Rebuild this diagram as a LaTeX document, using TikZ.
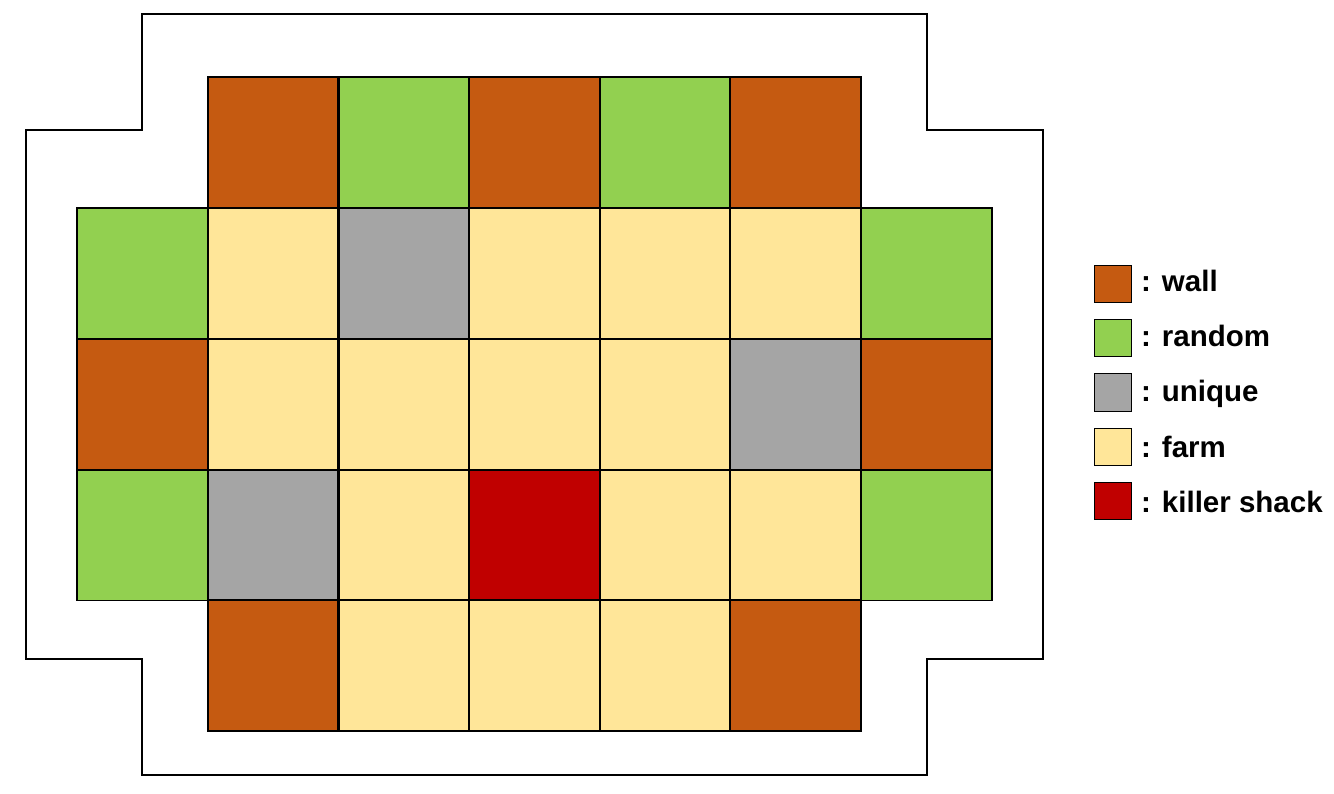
\documentclass[tikz,border=0pt]{standalone}
\usepackage{fontspec}
\setmainfont{Liberation Sans}
\definecolor{wallc}{HTML}{C55A11}
\definecolor{randc}{HTML}{92D050}
\definecolor{uniqc}{HTML}{A5A5A5}
\definecolor{farmc}{HTML}{FFE699}
\definecolor{killc}{HTML}{C00000}
\tikzset{
  cell/.style={minimum width=130.6pt, minimum height=130.6pt, inner sep=0pt, anchor=north west},
  W/.style={cell, fill=wallc},
  R/.style={cell, fill=randc},
  U/.style={cell, fill=uniqc},
  F/.style={cell, fill=farmc},
  K/.style={cell, fill=killc},
  cellborder/.style={draw=black, line width=1.8pt},
  swatch/.style={draw=black, line width=1pt, minimum width=37pt, minimum height=37pt, inner sep=0pt, anchor=north west},
  lbl/.style={anchor=base west, font=\bfseries\fontsize{29.5}{34}\selectfont, inner sep=0pt},
  outline/.style={draw=black, line width=2pt}
}
\begin{document}
\begin{tikzpicture}[x=1pt,y=-1pt]
\useasboundingbox (0,0) rectangle (1334,794);
\draw[outline] (141.5,14) -- (927,14) -- (927,130) -- (1043,130) -- (1043,659) -- (927,659) -- (927,775) -- (141.5,775) -- (141.5,659) -- (26,659) -- (26,130) -- (141.5,130) -- cycle;
% row 0
\foreach \c/\s in {1/W,2/R,3/W,4/R,5/W}
  \node[\s] (c0\c) at ({77+130.6*\c},77) {};
% row 1
\foreach \c/\s in {0/R,1/F,2/U,3/F,4/F,5/F,6/R}
  \node[\s] (c1\c) at ({77+130.6*\c},{77+130.8}) {};
% row 2
\foreach \c/\s in {0/W,1/F,2/F,3/F,4/F,5/U,6/W}
  \node[\s] (c2\c) at ({77+130.6*\c},{77+2*130.8}) {};
% row 3
\foreach \c/\s in {0/R,1/U,2/F,3/K,4/F,5/F,6/R}
  \node[\s] (c3\c) at ({77+130.6*\c},{77+3*130.8}) {};
% row 4
\foreach \c/\s in {1/W,2/F,3/F,4/F,5/W}
  \node[\s] (c4\c) at ({77+130.6*\c},{77+4*130.8}) {};
% borders on top of all fills
\foreach \n in {01,02,03,04,05,10,11,12,13,14,15,16,20,21,22,23,24,25,26,30,31,32,33,34,35,36,41,42,43,44,45}
  \draw[cellborder] (c\n.north west) rectangle (c\n.south east);
% legend
\node[swatch, fill=wallc] (lw) at (1094,265.5) {};
\node[lbl] (tw) at (1141,292) {: wall};
\node[swatch, fill=randc] (lr) at (1094,319.5) {};
\node[lbl] (tr) at (1141,347) {: random};
\node[swatch, fill=uniqc] (lu) at (1094,373.5) {};
\node[lbl] (tu) at (1141,402) {: unique};
\node[swatch, fill=farmc] (lf) at (1094,428) {};
\node[lbl] (tf) at (1141,457) {: farm};
\node[swatch, fill=killc] (lk) at (1094,482) {};
\node[lbl] (tk) at (1141,512) {: killer shack};
\end{tikzpicture}
\end{document}
